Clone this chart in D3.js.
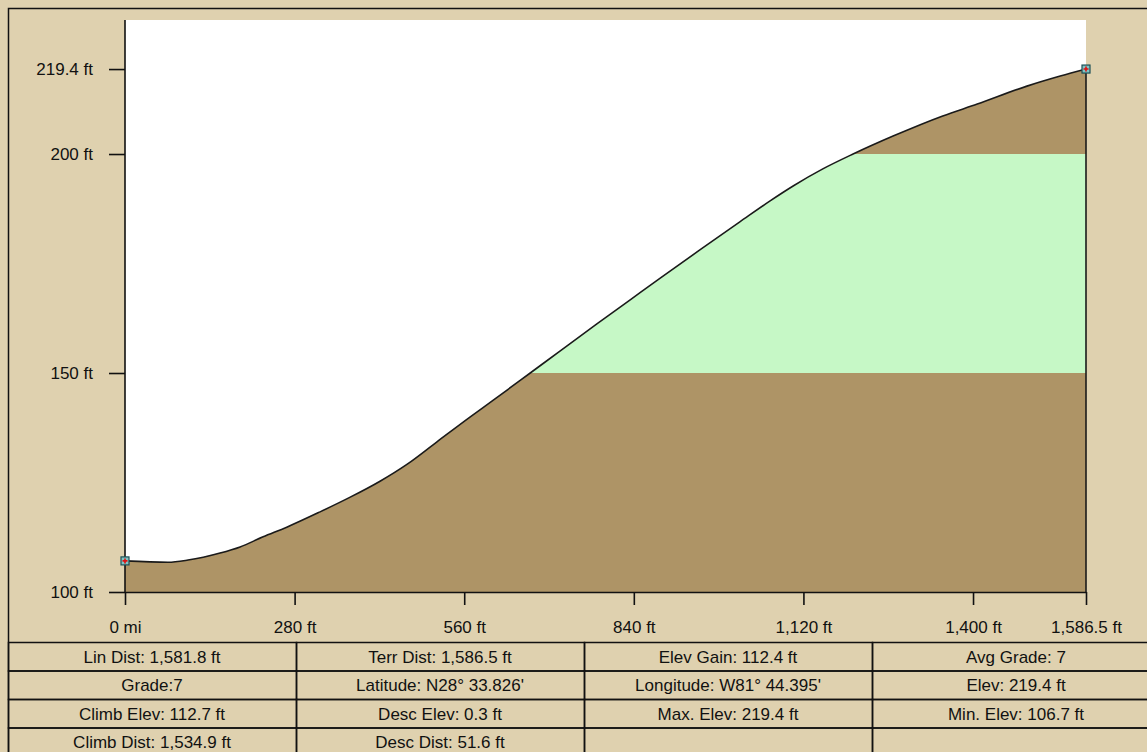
<!DOCTYPE html>
<html>
<head>
<meta charset="utf-8">
<script src="https://cdn.jsdelivr.net/npm/d3@7"></script>
<style>
  html, body { margin: 0; padding: 0; background: #dfd1af; overflow: hidden; }
  svg text { font-family: "Liberation Sans", Arial, sans-serif; font-size: 17px; fill: #111; }
</style>
</head>
<body>
<svg id="chart" width="1147" height="752"></svg>
<script>
'use strict';

// profile samples (distance in ft, elevation in ft)
var distFt = [0, 71, 104, 157, 190, 228, 267, 322, 371, 421, 466, 515, 570, 608, 669,
  718, 779, 834, 883, 949, 1015, 1065, 1103, 1152, 1202, 1268, 1350, 1407, 1489, 1544, 1586.5];
var elevFt = [107.1, 106.8, 107.3, 108.9, 110.3, 112.6, 114.8, 118.3, 121.6, 125.3, 129.2, 134.3, 140.0, 143.8, 150.0,
  155.0, 161.2, 166.7, 171.6, 178.1, 184.5, 189.3, 192.7, 196.6, 200.0, 204.1, 208.7, 211.4, 215.5, 217.8, 219.4];

var xTickValues = [0, 280, 560, 840, 1120, 1400, 1586.5];
var xTickLabels = ['0 mi', '280 ft', '560 ft', '840 ft', '1,120 ft', '1,400 ft', '1,586.5 ft'];
var yTickValues = [100, 150, 200, 219.4];
var yTickLabels = ['100 ft', '150 ft', '200 ft', '219.4 ft'];

// elevation bands and their fills
var bandBreaks = [100, 150, 200, 240];
var bandColors = ['#ae9466', '#c6f8c6', '#ae9466'];

var statsRows = [
  ['Lin Dist: 1,581.8 ft', 'Terr Dist: 1,586.5 ft', 'Elev Gain: 112.4 ft', 'Avg Grade: 7'],
  ['Grade:7', 'Latitude: N28\u00b0 33.826\'', 'Longitude: W81\u00b0 44.395\'', 'Elev: 219.4 ft'],
  ['Climb Elev: 112.7 ft', 'Desc Elev: 0.3 ft', 'Max. Elev: 219.4 ft', 'Min. Elev: 106.7 ft'],
  ['Climb Dist: 1,534.9 ft', 'Desc Dist: 51.6 ft', '', '']
];

var data = distFt.map(function (d, i) { return { d: d, e: elevFt[i] }; });

var svg = d3.select('#chart');

var plot = { left: 125, right: 1086, top: 20, bottom: 592 };

var x = d3.scaleLinear().domain([0, 1586.5]).range([plot.left, plot.right]);
var y = d3.scaleLinear().domain([100, 230.6]).range([plot.bottom, plot.top]);

// outer frame
svg.append('rect')
  .attr('x', 8.5).attr('y', 8.5)
  .attr('width', 1160).attr('height', 760)
  .attr('fill', '#dfd1af')
  .attr('stroke', '#111').attr('stroke-width', 1.5);

// white plot background
svg.append('rect')
  .attr('x', plot.left).attr('y', plot.top)
  .attr('width', plot.right - plot.left).attr('height', plot.bottom - plot.top)
  .attr('fill', '#ffffff');

var defs = svg.append('defs');

var area = d3.area()
  .x(function (p) { return x(p.d); })
  .y0(y(100))
  .y1(function (p) { return y(p.e); })
  .curve(d3.curveMonotoneX);

// fill each elevation band, clipped to its strip
bandColors.forEach(function (c, i) {
  var lo = bandBreaks[i], hi = bandBreaks[i + 1];
  var top = Math.max(y(hi), 0);
  defs.append('clipPath').attr('id', 'band' + i)
    .append('rect')
    .attr('x', plot.left).attr('y', top)
    .attr('width', plot.right - plot.left).attr('height', y(lo) - top);
  svg.append('path')
    .datum(data)
    .attr('d', area)
    .attr('fill', c)
    .attr('clip-path', 'url(#band' + i + ')');
});

// profile outline
var line = d3.line()
  .x(function (p) { return x(p.d); })
  .y(function (p) { return y(p.e); })
  .curve(d3.curveMonotoneX);

svg.append('path')
  .datum(data)
  .attr('d', line)
  .attr('fill', 'none')
  .attr('stroke', '#1a1a1a')
  .attr('stroke-width', 1.6);

var last = data[data.length - 1];
svg.append('line')
  .attr('x1', x(last.d)).attr('x2', x(last.d))
  .attr('y1', y(last.e)).attr('y2', y(100))
  .attr('stroke', '#1a1a1a').attr('stroke-width', 1.6);

// axes
var yAxis = d3.axisLeft(y)
  .tickValues(yTickValues)
  .tickFormat(function (v, i) { return yTickLabels[i]; })
  .tickSize(16).tickSizeOuter(0).tickPadding(16);

var gy = svg.append('g').attr('transform', 'translate(' + plot.left + ',0)').call(yAxis);

var xAxis = d3.axisBottom(x)
  .tickValues(xTickValues)
  .tickFormat(function (v, i) { return xTickLabels[i]; })
  .tickSize(13).tickSizeOuter(0).tickPadding(16);

var gx = svg.append('g').attr('transform', 'translate(0,' + plot.bottom + ')').call(xAxis);

[gx, gy].forEach(function (g) {
  g.select('.domain').attr('stroke', '#111').attr('stroke-width', 1.6);
  g.selectAll('.tick line').attr('stroke', '#111').attr('stroke-width', 1.6);
  g.selectAll('.tick text')
    .attr('font-family', '"Liberation Sans", Arial, sans-serif')
    .attr('font-size', 17).attr('fill', '#111');
});
gy.select('.domain').attr('d', 'M0,' + plot.top + 'V' + plot.bottom);

// endpoint markers
[data[0], last].forEach(function (p) {
  var g = svg.append('g').attr('transform', 'translate(' + x(p.d) + ',' + y(p.e) + ')');
  g.append('rect').attr('x', -4).attr('y', -4).attr('width', 8).attr('height', 8)
    .attr('fill', '#7fc4c4').attr('stroke', '#1d4f55').attr('stroke-width', 1.2);
  g.append('path').attr('d', 'M-2.5,0H2.5M0,-2.5V2.5')
    .attr('stroke', '#e01010').attr('stroke-width', 1.6);
});

// statistics table
var tableTop = 642, rowH = 28.5, colX = [8, 296, 584, 872], colW = 288;

statsRows.forEach(function (row, r) {
  row.forEach(function (txt, c) {
    var cx = colX[c], cy = tableTop + r * rowH;
    svg.append('rect')
      .attr('x', cx + 0.5).attr('y', cy + 0.5)
      .attr('width', colW).attr('height', rowH)
      .attr('fill', 'none').attr('stroke', '#111').attr('stroke-width', 1.5);
    svg.append('text')
      .attr('x', cx + colW / 2).attr('y', cy + rowH / 2 + 1)
      .attr('text-anchor', 'middle')
      .attr('dominant-baseline', 'central')
      .text(txt);
  });
});
</script>
</body>
</html>
